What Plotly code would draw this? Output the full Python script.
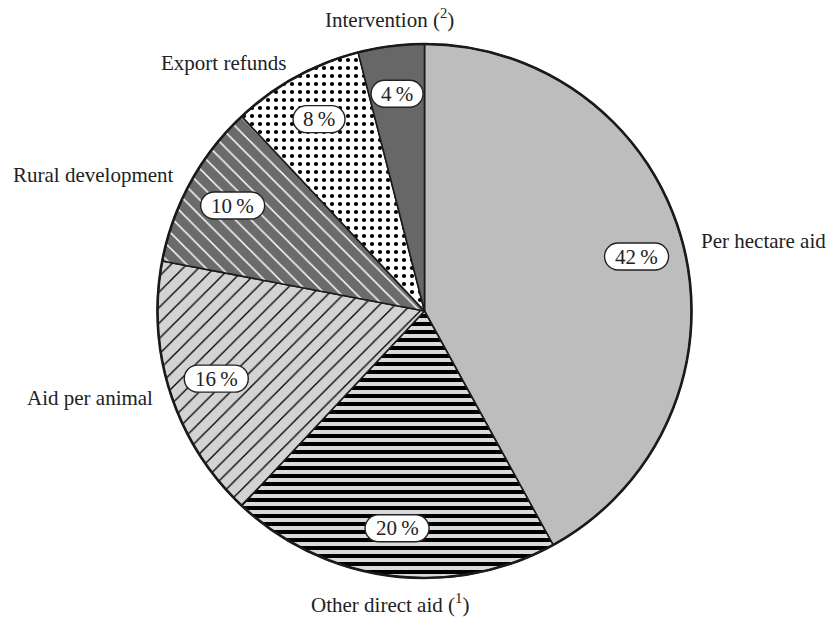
import math
import plotly.graph_objects as go

# ---- data ----
categories = ["Per hectare aid", "Other direct aid", "Aid per animal",
              "Rural development", "Export refunds", "Intervention"]
label_texts = ["Per hectare aid", "Other direct aid (<sup>1</sup>)", "Aid per animal",
               "Rural development", "Export refunds", "Intervention (<sup>2</sup>)"]
values = [42, 20, 16, 10, 8, 4]

# ---- styles ----
bg_colors = ["#bdbdbd", "#dadada", "#d3d3d3", "#6b6b6b", "#ffffff", "#676767"]
fg_colors = ["#bdbdbd", "#000000", "#000000", "#ffffff", "#000000", "#676767"]
shapes_pat = ["", "-", "/", "\\", ".", ""]
sizes = [8, 8, 11, 11, 8, 8]
solidities = [0.3, 0.5, 0.12, 0.14, 0.22, 0.3]

W, H = 831, 619
ml, mr, mt, mb = 157, 139, 44, 41
pw, ph = W - ml - mr, H - mt - mb
R = min(pw, ph) / 2.0
FONT = "Liberation Serif"

fig = go.Figure(go.Pie(
    labels=categories, values=values, sort=False, direction="clockwise",
    rotation=0, textinfo="none", hoverinfo="label+percent",
    marker=dict(colors=bg_colors,
                line=dict(color="#1a1a1a", width=1.6),
                pattern=dict(shape=shapes_pat, bgcolor=bg_colors, fgcolor=fg_colors,
                             size=sizes, solidity=solidities, fgopacity=1,
                             fillmode="overlay")),
    domain=dict(x=[0, 1], y=[0, 1]), showlegend=False,
))


def pill_path(cx, cy, w, h):
    """Rounded (pill) box path in paper coords; cx, cy, w, h in px (y up)."""
    r = h / 2.0
    k = 0.5523 * r
    xl, xr = cx - w / 2.0, cx + w / 2.0
    yt, yb = cy + r, cy - r
    pts = [
        ("M", [(xl + r, yt)]),
        ("L", [(xr - r, yt)]),
        ("C", [(xr - r + k, yt), (xr, cy + k), (xr, cy)]),
        ("C", [(xr, cy - k), (xr - r + k, yb), (xr - r, yb)]),
        ("L", [(xl + r, yb)]),
        ("C", [(xl + r - k, yb), (xl, cy - k), (xl, cy)]),
        ("C", [(xl, cy + k), (xl + r - k, yt), (xl + r, yt)]),
    ]
    out = []
    for cmd, pp in pts:
        out.append(cmd + " " + " ".join(f"{x / pw:.5f},{y / ph:.5f}" for x, y in pp))
    return " ".join(out) + " Z"


# thicker outer rim of the pie
shape_list = [dict(type="circle", xref="paper", yref="paper",
                   x0=0.5 - R / pw, x1=0.5 + R / pw, y0=0.5 - R / ph, y1=0.5 + R / ph,
                   line=dict(color="#1a1a1a", width=2.6), fillcolor="rgba(0,0,0,0)",
                   layer="above")]

total = sum(values)
cum = 0.0
annotations = []
for lab, v in zip(label_texts, values):
    mid = (cum + v / 2.0) / total * 2 * math.pi
    cum += v
    s, c = math.sin(mid), math.cos(mid)
    # percentage box
    rr = 0.82 * R
    cx, cy = pw / 2.0 + rr * s, ph / 2.0 + rr * c
    txt = f"{v}\u2009%"
    bw = 22 + 12 * len(str(v)) + 18
    shape_list.append(dict(type="path", xref="paper", yref="paper",
                           path=pill_path(cx, cy, bw, 27),
                           fillcolor="white", line=dict(color="#222", width=1.4),
                           layer="above"))
    annotations.append(dict(
        x=cx / pw, y=cy / ph, xref="paper", yref="paper",
        text=txt, showarrow=False,
        font=dict(family=FONT, size=21, color="#222"),
        xanchor="center", yanchor="middle"))
    # outside label
    ro = 1.06 * R if abs(s) > 0.3 else 1.045 * R
    xa = "left" if s > 0.3 else ("right" if s < -0.3 else "center")
    ya = "middle"
    if abs(s) <= 0.3:
        ya = "bottom" if c > 0 else "top"
    annotations.append(dict(
        x=0.5 + ro * s / pw, y=0.5 + ro * c / ph, xref="paper", yref="paper",
        text=lab, showarrow=False,
        font=dict(family=FONT, size=21, color="#222"),
        xanchor=xa, yanchor=ya))

fig.update_layout(
    width=W, height=H,
    margin=dict(l=ml, r=mr, t=mt, b=mb),
    paper_bgcolor="white", plot_bgcolor="white",
    annotations=annotations, shapes=shape_list,
)
fig.write_html("out.html", config={"displayModeBar": False},
               post_script="document.body.style.margin='0';")
